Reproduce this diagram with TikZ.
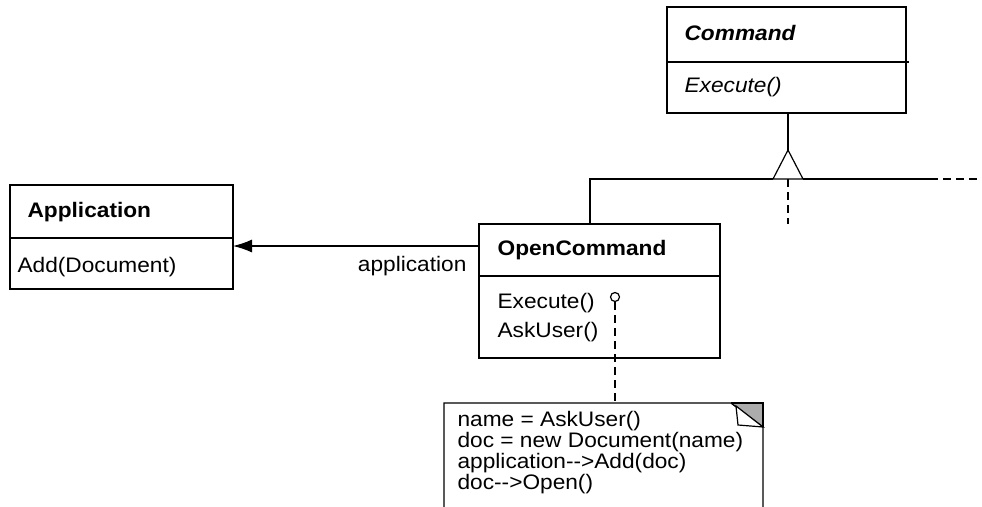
\documentclass[tikz,border=0pt]{standalone}
\usepackage{fontspec}
\setmainfont{Liberation Sans}[FakeStretch=1.08]
\usetikzlibrary{arrows.meta}
\begin{document}
\begin{tikzpicture}[x=1pt,y=-1pt,line width=1.2pt,
  box/.style={draw,line width=1.2pt,anchor=north west,inner sep=0pt,outer sep=0pt},
  txt/.style={anchor=base west,inner sep=0pt,font=\fontsize{21}{21}\selectfont},
  dsh/.style={dash pattern=on 8pt off 5pt}]
\useasboundingbox (0,0) rectangle (982,506);
% Command
\node[box,minimum width=239pt,minimum height=106pt] (cmd) at (667,7) {};
\draw (667,62) -- (909,62);
\node[txt,font=\fontsize{21}{21}\selectfont\bfseries\itshape] (cmdn) at (684,40) {Command};
\node[txt,font=\fontsize{21}{21}\selectfont\itshape] (cmde) at (684,92) {Execute()};
% Application
\node[box,minimum width=223pt,minimum height=104pt] (app) at (10,185) {};
\draw (10,238) -- (233,238);
\node[txt,font=\fontsize{21}{21}\selectfont\bfseries] (appn) at (27,217) {Application};
\node[txt] (appa) at (17,272) {Add(Document)};
% OpenCommand
\node[box,minimum width=241pt,minimum height=134pt] (oc) at (479,224) {};
\draw (479,276) -- (720,276);
\node[txt,font=\fontsize{21}{21}\selectfont\bfseries] (ocn) at (497,255) {OpenCommand};
\node[txt] (oce) at (497,308) {Execute()};
\node[txt] (oca) at (497,337) {AskUser()};
% inheritance
\coordinate (apex) at (788,150);
\coordinate (tl) at (773,179);
\coordinate (tr) at (803,179);
\coordinate (hl) at (590,179);
\coordinate (hs) at (930,179);
\coordinate (he) at (982,179);
\coordinate (dv) at (788,224);
\draw (cmd.south -| apex) -- (apex);
\draw (apex) -- (tl) -- (tr) -- cycle;
\draw (oc.north -| hl) -- (hl) -- (tl);
\draw (tr) -- (hs);
\draw[dsh] (hs) -- (he);
\draw[dsh] (apex |- tr) -- (dv);
% association
\coordinate (as) at (479,246);
\draw[-{Latex[length=19pt,width=13pt]}] (as) -- (app.east |- as);
\node[txt,anchor=base east] (lab) at (467,271) {application};
% note
\node[inner sep=0pt,outer sep=0pt,minimum width=319pt,minimum height=106pt,anchor=north west] (note) at (444,403) {};
\draw (note.south west) -- (note.north west) -- (731,403) -- (763,427) -- (note.south east) -- cycle;
\fill[gray!65] (731,403) -- (763,403) -- (763,427) -- cycle;
\draw[line width=1.2pt] (731,403) -- (763,427);
\draw[fill=white,line width=1.2pt] (736,406) -- (738,425) -- (763,427) -- cycle;
\draw (731,403) -- (763,403) -- (763,427);
\node[txt] (l1) at (457,426) {name = AskUser()};
\node[txt] (l2) at (457,447) {doc = new Document(name)};
\node[txt] (l3) at (457,468) {application-{}->Add(doc)};
\node[txt] (l4) at (457,489) {doc-{}->Open()};
% note link
\node[circle,draw,fill=white,inner sep=0pt,minimum size=9pt,line width=1.2pt] (circ) at (615,297) {};
\draw[dsh] (circ.south) -- (circ.south |- note.north);
\end{tikzpicture}
\end{document}
